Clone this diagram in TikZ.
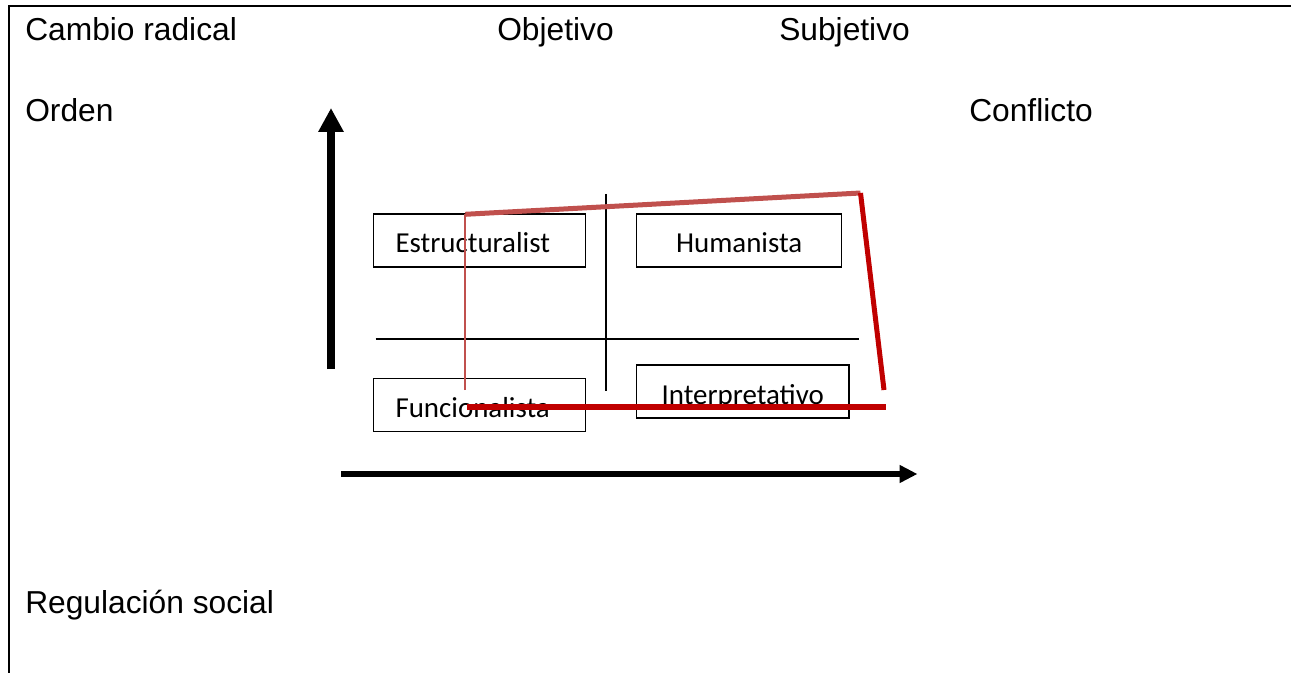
\documentclass[tikz,border=0pt]{standalone}
\usepackage{fontspec}
\setmainfont{Liberation Sans}
\newfontfamily\boxfont{Carlito}
\usetikzlibrary{arrows.meta}
\definecolor{redA}{HTML}{C0504D}
\definecolor{redB}{HTML}{C00000}
\begin{document}
\begin{tikzpicture}[x=0.75pt,y=-0.75pt,
  lbl/.style={anchor=base west, inner sep=0pt, font=\fontsize{23.8}{28}\selectfont},
  qbox/.style={draw=black, line width=1pt, minimum height=39.75pt, inner ysep=0pt,
               text height=18.75pt, text depth=0pt,
               font=\boxfont\fontsize{21.7}{26}\selectfont},
  leftbox/.style={qbox, text width=126pt, align=left, inner xsep=16.5pt},
  ctrbox/.style={qbox, align=center, inner xsep=0pt},
  thinline/.style={draw=black, line width=1.1pt},
  framestyle/.style={draw=black, line width=1.3pt},
  bigarrow/.style={draw=black, line width=6.5pt, -{Triangle[length=18pt,width=18pt]}},
  smallarrow/.style={draw=black, line width=4.5pt, -{Triangle[length=13.5pt,width=12.75pt]}},
  redthin/.style={draw=redA, line width=1.5pt},
  redtop/.style={draw=redA, line width=3.75pt},
  redside/.style={draw=redB, line width=3.75pt},
  redbottom/.style={draw=redB, line width=4.5pt}
]
\useasboundingbox (0,0) rectangle (1291,673);

% frame
\coordinate (f0) at (8.7,673);
\coordinate (f1) at (8.7,5.7);
\coordinate (f2) at (1291,5.7);
\draw[framestyle] (f0) -- (f1) -- (f2);

% labels
\node[lbl] (cambio) at (25,41) {Cambio radical};
\node[lbl] (objetivo) at (497,41) {Objetivo};
\node[lbl] (subjetivo) at (779,41) {Subjetivo};
\node[lbl] (orden) at (25,122) {Orden};
\node[lbl] (conflicto) at (969,122) {Conflicto};
\node[lbl] (regulacion) at (25,613) {Regulación social};

% axes arrows
\coordinate (va0) at (331,369);
\coordinate (va1) at (331,108);
\draw[bigarrow] (va0) -- (va1);
\coordinate (ha0) at (341,474);
\coordinate (ha1) at (917.5,474);
\draw[smallarrow] (ha0) -- (ha1);

% quadrant lines
\coordinate (qv0) at (606,194);
\coordinate (qv1) at (606,391);
\draw[thinline] (qv0) -- (qv1);
\coordinate (qh0) at (375.5,339);
\coordinate (qh1) at (859,339);
\draw[thinline] (qh0) -- (qh1);

% boxes
\node[leftbox] (estr) at (479.5,240.5) {Estructuralist};
\node[ctrbox, minimum width=153.75pt] (human) at (739.2,240.5) {Humanista};
\node[leftbox] (func) at (479.5,405) {Funcionalista};
\node[ctrbox, minimum width=159.4pt] (interp) at (742.7,391.5) {Interpretativo};

% red outline
\coordinate (rA) at (465.3,390);
\coordinate (rB) at (465.3,214.3);
\coordinate (rC) at (860.5,193);
\coordinate (rD) at (884,390);
\coordinate (rE) at (466.5,406.5);
\coordinate (rF) at (886,406.5);
\draw[redthin] (rA) -- (rB);
\draw[redtop] (rB) -- (rC);
\draw[redside] (rC) -- (rD);
\draw[redbottom] (rE) -- (rF);
\end{tikzpicture}
\end{document}
